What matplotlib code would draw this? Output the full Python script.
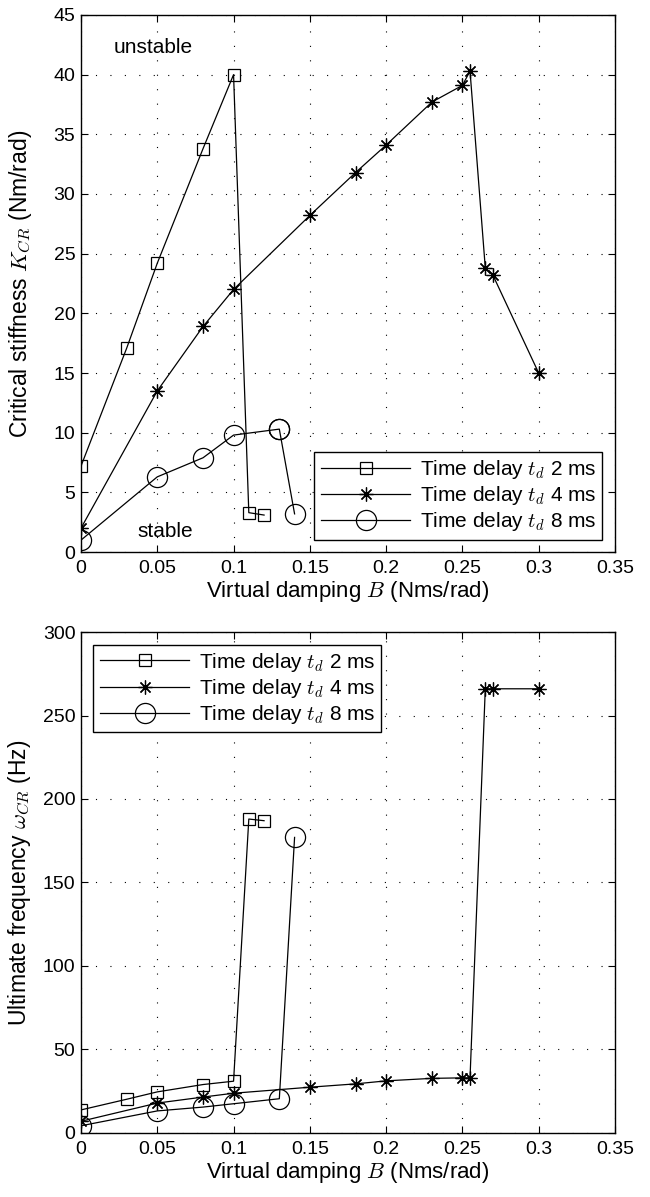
import matplotlib
matplotlib.use("Agg")
import matplotlib.pyplot as plt

# damping values (Nms/rad) and readings for each time delay
b2ms = [0, 0.03, 0.05, 0.08, 0.1, 0.11, 0.12]
b4ms = [0, 0.05, 0.08, 0.1, 0.15, 0.18, 0.2, 0.23, 0.25, 0.255, 0.265, 0.27, 0.3]
b8ms = [0, 0.05, 0.08, 0.1, 0.13, 0.13, 0.14]

# critical stiffness K_CR (Nm/rad)
k2ms = [7.2, 17.1, 24.2, 33.8, 40.0, 3.3, 3.1]
k4ms = [2.0, 13.5, 18.9, 22.0, 28.2, 31.8, 34.1, 37.7, 39.1, 40.3, 23.8, 23.2, 15.0]
k8ms = [1.0, 6.3, 7.9, 9.8, 10.3, 10.3, 3.2]

# ultimate frequency w_CR (Hz)
w2ms = [13.8, 20.2, 24.6, 29.0, 31.0, 188, 187]
w4ms = [7.0, 17.9, 21.5, 23.8, 27.4, 29.4, 31.2, 32.7, 33.0, 33.0, 266, 266, 266]
w8ms = [4.3, 13.2, 15.5, 17.5, 20.5, 177]
b8msW = [0, 0.05, 0.08, 0.1, 0.13, 0.14]

labels = [r"Time delay $t_d$ 2 ms", r"Time delay $t_d$ 4 ms", r"Time delay $t_d$ 8 ms"]
xticks = [0, 0.05, 0.1, 0.15, 0.2, 0.25, 0.3, 0.35]
xticklabels = ["0", "0.05", "0.1", "0.15", "0.2", "0.25", "0.3", "0.35"]

plt.rcParams['font.family'] = ['Liberation Sans', 'DejaVu Sans']
plt.rcParams['mathtext.fontset'] = 'cm'

asterisk = (8, 2, 0)


def styleAxes(ax, ymax, ystep):
    ax.set_xlim(0, 0.35)
    ax.set_ylim(0, ymax)
    ax.set_xticks(xticks)
    ax.set_xticklabels(xticklabels)
    ax.set_yticks(range(0, ymax + 1, ystep))
    ax.tick_params(direction='in', top=True, right=True, length=5, width=0.8, labelsize=14)
    ax.tick_params(axis='x', pad=6)
    ax.tick_params(axis='y', pad=4)
    ax.grid(True, color='k', linestyle=(0, (1, 12)), linewidth=0.8)
    for s in ax.spines.values():
        s.set_linewidth(1.0)
    ax.set_xlabel(r"Virtual damping $B$ (Nms/rad)", fontsize=16, labelpad=1)


def plotSeries(ax, xs, ys, marker, ms, label):
    ax.plot(xs, ys, color='k', linewidth=0.9, marker=marker, markersize=ms,
            markerfacecolor='none', markeredgecolor='k', markeredgewidth=0.9, label=label)


def addLegend(ax, where):
    leg = ax.legend(loc=where, fontsize=15, handlelength=4.3, borderaxespad=0.6,
                    fancybox=False, edgecolor='k', framealpha=1, labelspacing=0.15,
                    handletextpad=0.45, borderpad=0.3)
    leg.get_frame().set_linewidth(1.0)


fig = plt.figure(figsize=(6.5, 11.97), dpi=100)
ax1 = fig.add_axes([0.1246, 0.5388, 0.8215, 0.4487])
ax2 = fig.add_axes([0.1246, 0.0535, 0.8215, 0.4185])

plotSeries(ax1, b2ms, k2ms, 's', 9, labels[0])
plotSeries(ax1, b4ms, k4ms, asterisk, 10, labels[1])
plotSeries(ax1, b8ms, k8ms, 'o', 14.5, labels[2])
styleAxes(ax1, 45, 5)
ax1.set_ylabel(r"Critical stiffness $K_{CR}$ (Nm/rad)", fontsize=16.5)
ax1.yaxis.set_label_coords(-0.088, 0.5)
ax1.text(0.047, 42.3, "unstable", ha='center', va='center', fontsize=15)
ax1.text(0.055, 1.7, "stable", ha='center', va='center', fontsize=15)
addLegend(ax1, 'lower right')

plotSeries(ax2, b2ms, w2ms, 's', 9, labels[0])
plotSeries(ax2, b4ms, w4ms, asterisk, 10, labels[1])
plotSeries(ax2, b8msW, w8ms, 'o', 14.5, labels[2])
styleAxes(ax2, 300, 50)
ax2.set_ylabel(r"Ultimate frequency $\omega_{CR}$ (Hz)", fontsize=16.5)
ax2.yaxis.set_label_coords(-0.09, 0.5)
addLegend(ax2, 'upper left')

fig.savefig("out.png", dpi=100)
